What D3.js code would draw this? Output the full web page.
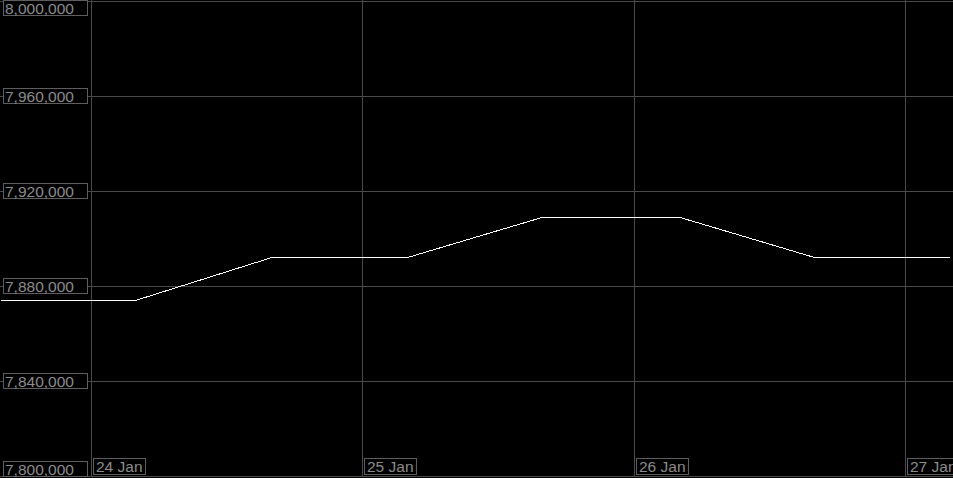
<!DOCTYPE html>
<html>
<head>
<meta charset="utf-8">
<script src="https://cdn.jsdelivr.net/npm/d3@7"></script>
<style>
	html, body { margin: 0; padding: 0; background: #000; }
	svg { display: block; }
	text { font-family: "Liberation Sans", Arial, sans-serif; }
</style>
</head>
<body>
<div id="chart"></div>
<script>
// series, one point every 12 hours
const times = [
	'2024-01-23T16:00', '2024-01-24T04:00', '2024-01-24T16:00', '2024-01-25T04:00',
	'2024-01-25T16:00', '2024-01-26T04:00', '2024-01-26T16:00', '2024-01-27T04:00'
];
const values = [7874000, 7874000, 7892000, 7892000, 7909000, 7909000, 7892000, 7892000];

const yTicks = [7800000, 7840000, 7880000, 7920000, 7960000, 8000000];
const xTicks = ['2024-01-24', '2024-01-25', '2024-01-26', '2024-01-27'];
const xTickLabels = ['24 Jan', '25 Jan', '26 Jan', '27 Jan'];

const width = 953;
const height = 478;
const grid_color = '#4a4a4a';
const label_color = '#8c8c8c';
const box_color = '#5e5e5e';
const font_size = '15.5px';

const parseTime = d3.timeParse('%Y-%m-%dT%H:%M');
const parseDay = d3.timeParse('%Y-%m-%d');

const data = times.map((t, i) => ({ date: parseTime(t), value: values[i] }));

// 24 Jan sits at x=91 and 27 Jan at x=905
const x = d3.scaleTime()
	.domain([parseDay('2024-01-24'), parseDay('2024-01-27')])
	.range([91, 905]);

const y = d3.scaleLinear()
	.domain([7800000, 8000000])
	.range([476, 1]);

const svg = d3.select('#chart')
	.append('svg')
	.attr('width', width)
	.attr('height', height);

// horizontal grid lines
svg.append('g')
	.selectAll('line')
	.data(yTicks)
	.join('line')
	.attr('x1', 0)
	.attr('x2', width)
	.attr('y1', d => Math.round(y(d)) + 0.5)
	.attr('y2', d => Math.round(y(d)) + 0.5)
	.attr('stroke', grid_color)
	.attr('stroke-width', 1);

// vertical grid lines
svg.append('g')
	.selectAll('line')
	.data(xTicks)
	.join('line')
	.attr('x1', d => Math.round(x(parseDay(d))) + 0.5)
	.attr('x2', d => Math.round(x(parseDay(d))) + 0.5)
	.attr('y1', 0)
	.attr('y2', 477)
	.attr('stroke', grid_color)
	.attr('stroke-width', 1);

// price line
const line = d3.line()
	.x(d => x(d.date))
	.y(d => y(d.value));

svg.append('path')
	.datum(data)
	.attr('d', line)
	.attr('fill', 'none')
	.attr('stroke', '#ffffff')
	.attr('stroke-width', 1)
	.attr('shape-rendering', 'crispEdges');

// y labels in boxes
const fmt = d3.format(',');
const yLabels = svg.append('g')
	.selectAll('g')
	.data(yTicks)
	.join('g')
	.attr('transform', d => {
		const cy = Math.min(Math.max(Math.round(y(d)), 8), 469);
		return `translate(0,${cy})`;
	});

yLabels.append('rect')
	.attr('x', 3.5)
	.attr('y', -7.5)
	.attr('width', 84)
	.attr('height', 15)
	.attr('fill', '#000')
	.attr('stroke', box_color)
	.attr('stroke-width', 1);

yLabels.append('text')
	.attr('x', 5)
	.attr('y', 6)
	.attr('fill', label_color)
	.attr('font-size', font_size)
	.text(d => fmt(d));

// x labels in boxes
const xLabels = svg.append('g')
	.selectAll('g')
	.data(xTicks)
	.join('g')
	.attr('transform', d => `translate(${Math.round(x(parseDay(d))) + 2},466)`);

xLabels.append('text')
	.attr('x', 3)
	.attr('y', 6)
	.attr('fill', label_color)
	.attr('font-size', font_size)
	.text((d, i) => xTickLabels[i]);

xLabels.each(function () {
	const g = d3.select(this);
	const bb = g.select('text').node().getBBox();
	g.insert('rect', 'text')
		.attr('x', 0.5)
		.attr('y', -7.5)
		.attr('width', Math.round(bb.width) + 5)
		.attr('height', 16)
		.attr('fill', '#000')
		.attr('stroke', box_color)
		.attr('stroke-width', 1);
});
</script>
</body>
</html>
